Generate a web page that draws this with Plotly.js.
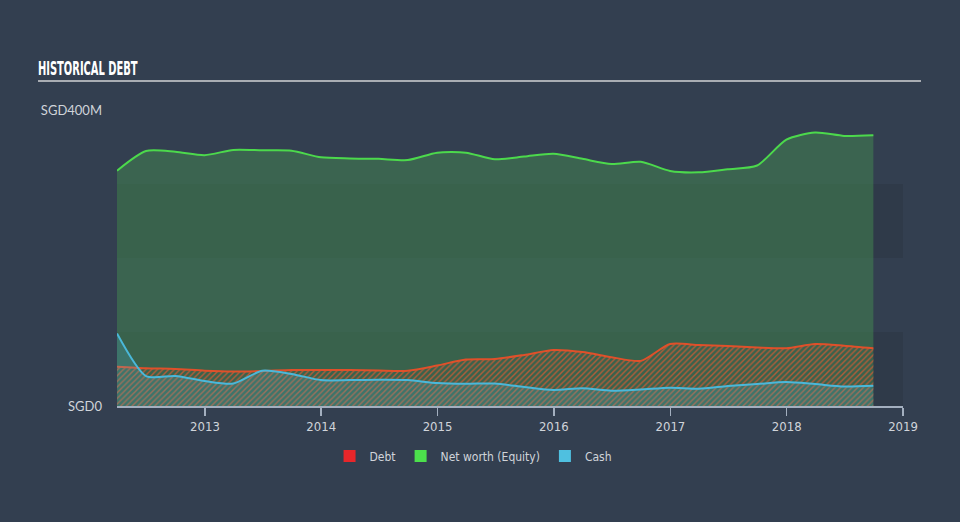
<!DOCTYPE html>
<html>
<head>
<meta charset="utf-8">
<script src="https://cdn.plot.ly/plotly-3.0.1.min.js"></script>
<style>
  html, body { margin: 0; padding: 0; background: #333f50; }
  #chart { width: 960px; height: 522px; }
  .gtitle { transform: scaleX(0.58); transform-origin: 38px 0px; }
</style>
</head>
<body>
<div id="chart"></div>
<script>
// Quarterly dates
const dates = [
  '2012-03-31','2012-06-30','2012-09-30','2012-12-31',
  '2013-03-31','2013-06-30','2013-09-30','2013-12-31',
  '2014-03-31','2014-06-30','2014-09-30','2014-12-31',
  '2015-03-31','2015-06-30','2015-09-30','2015-12-31',
  '2016-03-31','2016-06-30','2016-09-30','2016-12-31',
  '2017-03-31','2017-06-30','2017-09-30','2017-12-31',
  '2018-03-31','2018-06-30','2018-09-30'
];
// Values in SGD millions
const equity = [318, 344.6, 343.6, 339, 346, 345.5, 345, 336, 334.5, 334, 332.4, 342.3, 342.3, 333.4, 337, 341, 334, 327, 330, 317.6, 315.8, 320, 325, 360, 369.6, 365, 366];
const debt   = [53, 51, 50, 47.7, 46.6, 47.3, 48.6, 48.6, 48.6, 48, 47.7, 54.7, 62.8, 63.5, 69, 75.7, 73, 66, 61, 83.8, 82.4, 81, 79, 78, 83.8, 81.5, 78];
const cash   = [98, 40.5, 40.5, 33.8, 30.4, 47.7, 43.2, 35, 35, 35.4, 35, 31, 30, 30.4, 25.7, 21.6, 24, 20.7, 22.3, 24.7, 23.4, 27, 29.7, 32.4, 29.7, 26.4, 27.4];

const yTickVals = [0, 400];
const yTickText = ['SGD0', 'SGD400M'];
const legendNames = ['Debt', 'Net worth (Equity)', 'Cash'];
const legendColors = ['#e8262a', '#4ce04c', '#4fc0e0'];

const condensed = 'DejaVu Sans Condensed, Liberation Sans Narrow, sans-serif';

const traces = [
  {
    x: dates, y: equity, type: 'scatter', mode: 'lines',
    line: { color: '#4cd94c', width: 2, shape: 'spline', smoothing: 0.7 },
    fill: 'tozeroy', fillcolor: 'rgba(67,137,80,0.5)',
    showlegend: false, hoverinfo: 'skip'
  },
  {
    x: dates, y: debt, type: 'scatter', mode: 'lines',
    line: { color: '#e0502a', width: 2, shape: 'spline', smoothing: 0.7 },
    fill: 'tozeroy', fillcolor: 'rgba(0,0,0,0)',
    fillpattern: { shape: '/', fgcolor: 'rgba(220,90,50,0.75)', bgcolor: 'rgba(0,0,0,0)', size: 4, solidity: 0.35 },
    showlegend: false, hoverinfo: 'skip'
  },
  {
    x: dates, y: cash, type: 'scatter', mode: 'lines',
    line: { color: '#4ab8da', width: 2, shape: 'spline', smoothing: 0.7 },
    fill: 'tozeroy', fillcolor: 'rgba(79,184,216,0.22)',
    showlegend: false, hoverinfo: 'skip'
  }
];
legendNames.forEach((n, i) => {
  traces.push({
    x: [null], y: [null], type: 'bar', name: n,
    marker: { color: legendColors[i] }, showlegend: true, hoverinfo: 'skip'
  });
});

const layout = {
  width: 960, height: 522,
  paper_bgcolor: '#333f50', plot_bgcolor: 'rgba(0,0,0,0)',
  margin: { l: 117, r: 57, t: 110, b: 116 },
  title: {
    text: '<b>HISTORICAL DEBT</b>',
    font: { family: condensed, size: 19, color: '#ffffff' },
    x: 38 / 960, xref: 'container', xanchor: 'left',
    y: (522 - 68) / 522, yref: 'container', yanchor: 'middle'
  },
  xaxis: {
    type: 'date',
    range: ['2012-03-31', '2019-01-01'],
    dtick: 'M12', tick0: '2013-01-01', tickformat: '%Y',
    showgrid: false, zeroline: false,
    showline: true, linecolor: '#a3afbf', linewidth: 1.5,
    ticks: 'outside', ticklen: 8, tickcolor: '#a3afbf', tickwidth: 1.5,
    tickfont: { family: condensed, size: 13, color: '#d0d4da' }
  },
  yaxis: {
    range: [0, 400],
    tickvals: yTickVals, ticktext: yTickText,
    showgrid: false, zeroline: false, showline: false,
    ticks: '', ticklabelstandoff: 14,
    tickfont: { family: 'Lato, sans-serif', size: 13, color: '#d0d4da' }
  },
  legend: {
    orientation: 'h', x: 0.453, xanchor: 'center', y: -0.169, yanchor: 'middle',
    font: { family: condensed, size: 12, color: '#d0d4da' },
    bgcolor: 'rgba(0,0,0,0)', itemwidth: 30
  },
  shapes: [
    { type: 'rect', xref: 'paper', yref: 'y', x0: 0, x1: 1, y0: 0, y1: 100,
      fillcolor: 'rgba(0,0,0,0.08)', line: { width: 0 }, layer: 'below' },
    { type: 'rect', xref: 'paper', yref: 'y', x0: 0, x1: 1, y0: 200, y1: 300,
      fillcolor: 'rgba(0,0,0,0.08)', line: { width: 0 }, layer: 'below' },
    { type: 'line', xref: 'paper', yref: 'paper', x0: -0.1005, x1: 1.0229, y0: 1.098, y1: 1.098,
      line: { color: '#a9adb3', width: 2 } }
  ],
  showlegend: true
};

Plotly.newPlot('chart', traces, layout, { displayModeBar: false, staticPlot: true });
</script>
</body>
</html>
